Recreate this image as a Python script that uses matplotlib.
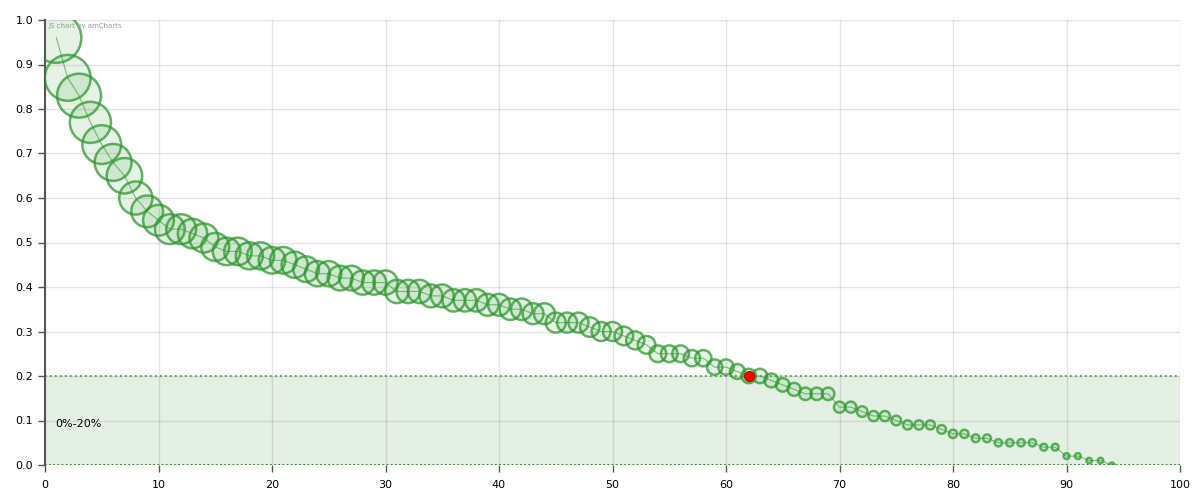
import matplotlib
matplotlib.use("Agg")
import matplotlib.pyplot as plt
import numpy as np

# values, one per x = 1..94
x = list(range(1, 95))
y = [0.96, 0.87, 0.83, 0.77, 0.72, 0.68, 0.65, 0.60, 0.57, 0.55,
     0.53, 0.53, 0.52, 0.51, 0.49, 0.48, 0.48, 0.47, 0.47, 0.46,
     0.46, 0.45, 0.44, 0.43, 0.43, 0.42, 0.42, 0.41, 0.41, 0.41,
     0.39, 0.39, 0.39, 0.38, 0.38, 0.37, 0.37, 0.37, 0.36, 0.36,
     0.35, 0.35, 0.34, 0.34, 0.32, 0.32, 0.32, 0.31, 0.30, 0.30,
     0.29, 0.28, 0.27, 0.25, 0.25, 0.25, 0.24, 0.24, 0.22, 0.22,
     0.21, 0.20, 0.20, 0.19, 0.18, 0.17, 0.16, 0.16, 0.16, 0.13,
     0.13, 0.12, 0.11, 0.11, 0.10, 0.09, 0.09, 0.09, 0.08, 0.07,
     0.07, 0.06, 0.06, 0.05, 0.05, 0.05, 0.05, 0.04, 0.04, 0.02,
     0.02, 0.01, 0.01, 0.00]
highlight_x = 62
highlight_y = 0.20
band_label = "0%-20%"

GREEN = "#2e9a2e"

fig = plt.figure(figsize=(12, 5), dpi=100)
ax = fig.add_axes([45 / 1200, 35 / 500, 1135 / 1200, 445 / 500])

# band 0-20%
ax.axhspan(0, 0.2, color="#e5f0e5", zorder=0)
ax.axhline(0.2, color=GREEN, ls=(0, (1, 2)), lw=1.2, zorder=1)
ax.axhline(0.0, color="#1f5f1f", ls=(0, (1, 1.5)), lw=1.2, zorder=1)
ax.text(0.9, 0.092, band_label, fontsize=8, color="#000000", va="center", ha="left")

# bubble diameter in px: min 5 px + proportional part
vals = np.array(y)
diam = 5 + 45 * vals / vals.max()
sizes = (diam * 0.72) ** 2

ax.plot(x, y, color=GREEN, lw=0.8, alpha=0.6, zorder=2)
ax.scatter(x, y, s=sizes, facecolor=(0.18, 0.6, 0.18, 0.12),
           edgecolor=(0.18, 0.6, 0.18, 0.75), linewidth=1.8, zorder=3)
ax.scatter([highlight_x], [highlight_y], s=(10 * 0.72) ** 2, color="#ff0000",
           edgecolor="#cc0000", linewidth=0.8, zorder=4)

ax.set_xlim(0, 100)
ax.set_ylim(0, 1.0)
ax.set_xticks(range(0, 101, 10))
ax.set_yticks(np.arange(0, 1.01, 0.1))
ax.set_yticklabels([f"{v:.1f}" for v in np.arange(0, 1.01, 0.1)])
ax.grid(True, color="#000000", alpha=0.1, lw=1)
ax.set_axisbelow(True)

for s in ["top", "right"]:
    ax.spines[s].set_visible(False)
ax.spines["left"].set_color("#555555")
ax.spines["left"].set_linewidth(1.5)
ax.spines["bottom"].set_visible(False)
ax.tick_params(axis="both", labelsize=8, color="#555555", length=5, width=1)
ax.tick_params(axis="x", pad=6)

fig.text(48 / 1200, 1 - 28 / 500, "JS chart by amCharts", fontsize=5, color="#999999")

fig.savefig("out.png", dpi=100)
